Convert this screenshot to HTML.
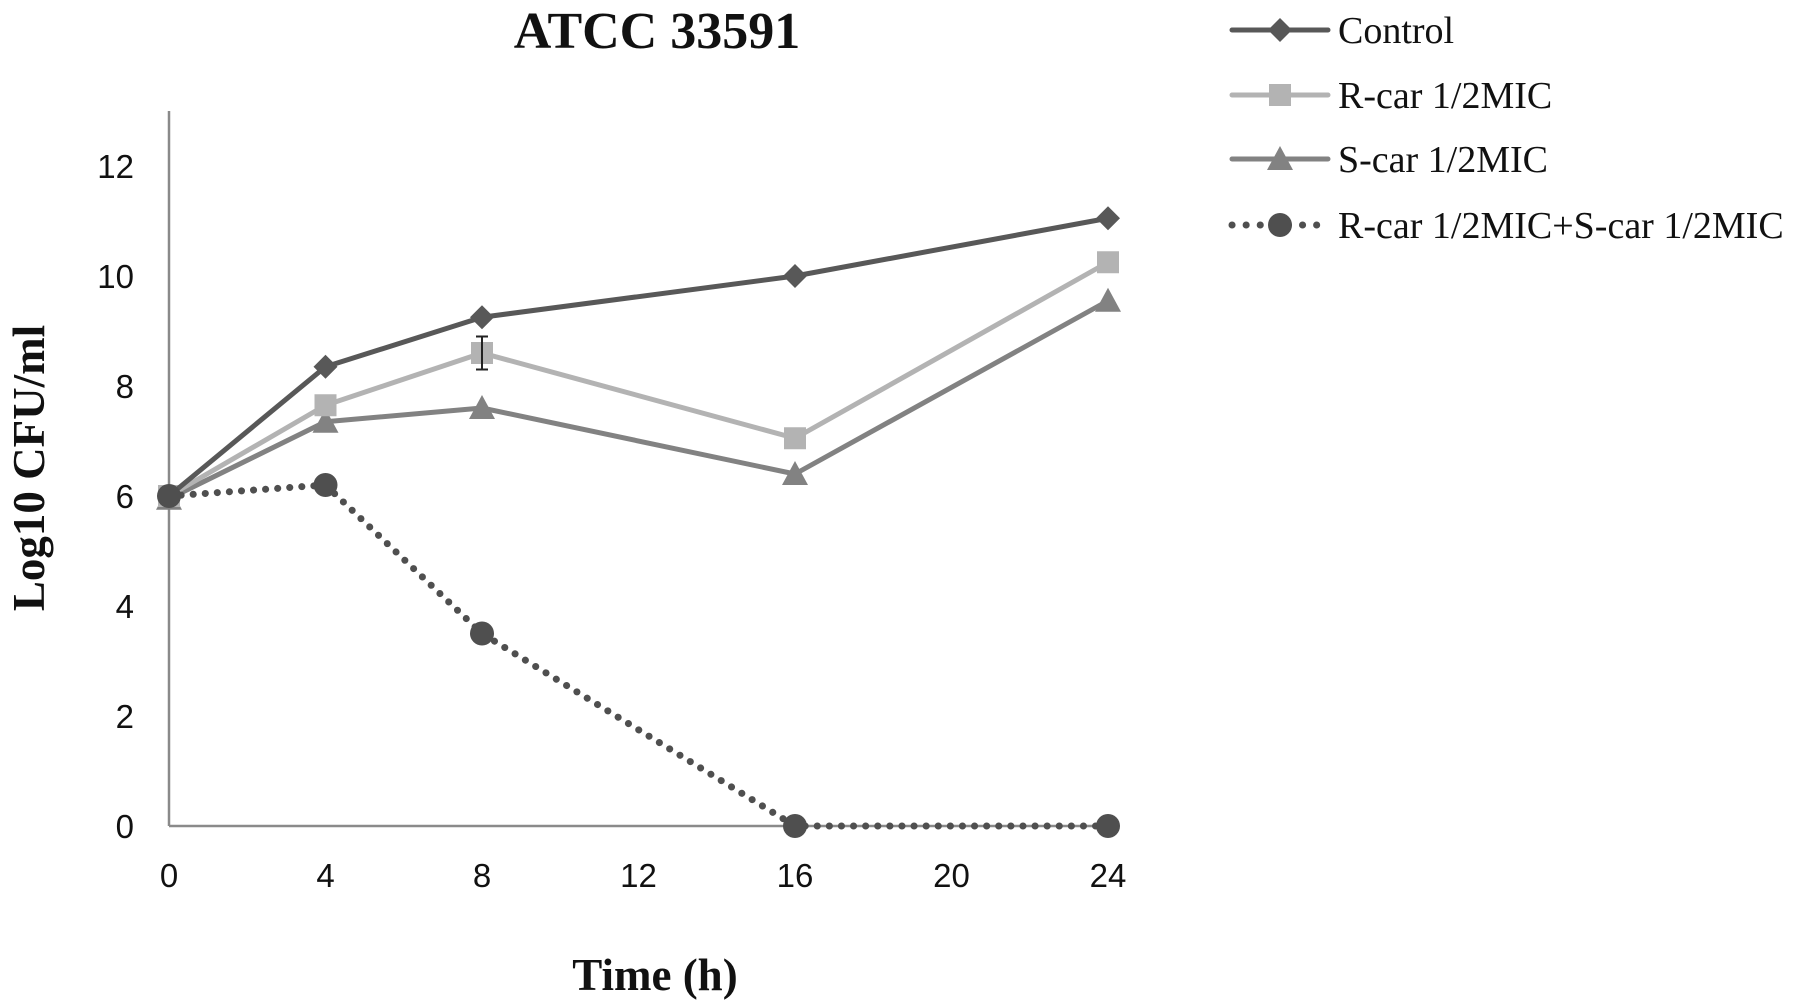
<!DOCTYPE html>
<html><head><meta charset="utf-8"><style>
html,body{margin:0;padding:0;background:#fff;}
svg{display:block;}
</style></head><body>
<svg id="chart" width="1795" height="1007" viewBox="0 0 1795 1007" xmlns="http://www.w3.org/2000/svg">
<text x="657" y="48" text-anchor="middle" font-family="Liberation Serif, serif" font-weight="bold" font-size="52" fill="#111">ATCC 33591</text>
<text transform="translate(44,468) rotate(-90)" text-anchor="middle" font-family="Liberation Serif, serif" font-weight="bold" font-size="45" fill="#111">Log10 CFU/ml</text>
<text x="655" y="990" text-anchor="middle" font-family="Liberation Serif, serif" font-weight="bold" font-size="45" fill="#111">Time (h)</text>
<g id="axes"></g>
<g id="series"></g>
<g id="legend"></g>
</svg>
<script>
const xTicks = [0, 4, 8, 12, 16, 20, 24];
const yTicks = [0, 2, 4, 6, 8, 10, 12];
const times = [0, 4, 8, 16, 24];
const controlVals = [6.0, 8.35, 9.25, 10.0, 11.05];
const rcarVals = [6.0, 7.65, 8.6, 7.05, 10.25];
const rcarErr = [0, 0, 0.3, 0, 0];
const scarVals = [5.95, 7.35, 7.6, 6.4, 9.55];
const comboVals = [6.0, 6.2, 3.5, 0, 0];
const seriesNames = ["Control", "R-car 1/2MIC", "S-car 1/2MIC", "R-car 1/2MIC+S-car 1/2MIC"];

const NS = "http://www.w3.org/2000/svg";
const X0 = 169, X1 = 1108, Y0 = 826, Y1 = 166;
function sx(v){ return X0 + (v - 0) / 24 * (X1 - X0); }
function sy(v){ return Y0 - v / 12 * (Y0 - Y1); }
function mk(tag, attrs, parent){
  const e = document.createElementNS(NS, tag);
  for (const k in attrs) e.setAttribute(k, attrs[k]);
  parent.appendChild(e);
  return e;
}
const axes = document.getElementById('axes');
const yAxis = mk('line', {x1:X0, y1:111, x2:X0, y2:Y0, stroke:'#8a8a8a', 'stroke-width':2.5}, axes);


const xAxis = mk('line', {x1:X0, y1:Y0, x2:X1, y2:Y0, stroke:'#8a8a8a', 'stroke-width':2.5}, axes);


yTicks.forEach(t => {
  const e = mk('text', {x:134, y:sy(t)+12, 'text-anchor':'end', 'font-family':'Liberation Sans, sans-serif', 'font-size':33, fill:'#111'}, axes);
  e.textContent = t;
  
  
});
xTicks.forEach(t => {
  const e = mk('text', {x:sx(t), y:887, 'text-anchor':'middle', 'font-family':'Liberation Sans, sans-serif', 'font-size':33, fill:'#111'}, axes);
  e.textContent = t;
  
  
});

function marker(type, cx, cy, color, parent){
  let e;
  if (type === 'diamond') e = mk('polygon', {points:`${cx},${cy-12} ${cx+12},${cy} ${cx},${cy+12} ${cx-12},${cy}`, fill:color}, parent);
  else if (type === 'square') e = mk('rect', {x:cx-11, y:cy-11, width:22, height:22, fill:color}, parent);
  else if (type === 'triangle') e = mk('polygon', {points:`${cx},${cy-13} ${cx+13},${cy+11} ${cx-13},${cy+11}`, fill:color}, parent);
  else e = mk('circle', {cx:cx, cy:cy, r:12, fill:color}, parent);
  return e;
}
const series = document.getElementById('series');
const defs = [
  {vals: scarVals, color:'#828282', m:'triangle', dash:null, name:'s-car-series'},
  {vals: rcarVals, color:'#b3b3b3', m:'square', dash:null, name:'r-car-series'},
  {vals: controlVals, color:'#585858', m:'diamond', dash:null, name:'control-series'},
  {vals: comboVals, color:'#4f4f4f', m:'circle', dash:'0.1 12', name:'combination-series'}
];
defs.forEach(d => {
  const g = mk('g', {}, series);
  
  
  const pts = times.map((t,i) => sx(t) + ',' + sy(d.vals[i])).join(' ');
  const attrs = {points:pts, fill:'none', stroke:d.color, 'stroke-width': d.dash ? 7 : 5, 'stroke-linejoin':'round'};
  if (d.dash){ attrs['stroke-dasharray'] = d.dash; attrs['stroke-linecap'] = 'round'; }
  const pl = mk('polyline', attrs, g);
  
  
  times.forEach((t,i) => {
    const m = marker(d.m, sx(t), sy(d.vals[i]), d.color, g);
    
    
  });
});
times.forEach((t,i) => {
  if (!rcarErr[i]) return;
  const x = sx(t), a = sy(rcarVals[i] + rcarErr[i]), b = sy(rcarVals[i] - rcarErr[i]);
  const e = mk('path', {d:`M${x},${a} V${b} M${x-6},${a} H${x+6} M${x-6},${b} H${x+6}`, stroke:'#222', 'stroke-width':2, fill:'none'}, series);
  
  
});

const legend = document.getElementById('legend');
const legDefs = [
  {color:'#585858', m:'diamond', dash:null, y:30},
  {color:'#b3b3b3', m:'square', dash:null, y:95},
  {color:'#828282', m:'triangle', dash:null, y:159},
  {color:'#4f4f4f', m:'circle', dash:'0.1 14', y:225}
];
legDefs.forEach((d,i) => {
  const g = mk('g', {}, legend);
  
  
  const la = {x1:1232, y1:d.y, x2:1328, y2:d.y, stroke:d.color, 'stroke-width': d.dash ? 7 : 5, 'stroke-linecap':'round'};
  if (d.dash) la['stroke-dasharray'] = d.dash;
  mk('line', la, g);
  marker(d.m, 1280, d.y, d.color, g);
  const t = mk('text', {x:1338, y:d.y+13, 'font-family':'Liberation Serif, serif', 'font-size':38, fill:'#111'}, g);
  t.textContent = seriesNames[i];
});
</script>
</body></html>
